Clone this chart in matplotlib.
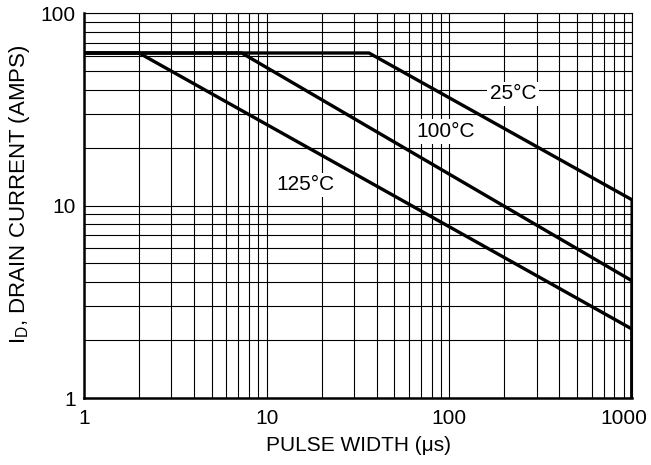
import matplotlib
matplotlib.use('Agg')
import numpy as np
import matplotlib.pyplot as plt
from matplotlib.transforms import ScaledTranslation

plt.rcParams['font.family'] = ['Liberation Sans', 'DejaVu Sans']
plt.rcParams['mathtext.fontset'] = 'custom'
plt.rcParams['mathtext.rm'] = 'Liberation Sans'

# safe operating limit: flat current limit, then falls off until 1000 us
temps = ['25°C', '100°C', '125°C']
limit_current = 62.0
knee_width = [36.3, 7.3, 2.0]      # us, where each curve leaves the flat limit
end_current = [10.7, 4.06, 2.28]   # A at 1000 us
end_width = 1000.0

label_pos = [(223, 38.0), (95, 24.3), (16.2, 12.8)]

fig = plt.figure(figsize=(6.51, 4.65), dpi=100)
ax = fig.add_axes([0.129, 0.144, 0.842, 0.828])

ax.set_xscale('log')
ax.set_yscale('log')
ax.set_xlim(1, 1000)
ax.set_ylim(1, 100)

ax.grid(True, which='both', color='black', linewidth=0.8)
ax.set_axisbelow(True)

for k, e in zip(knee_width, end_current):
    xs = [1, k, end_width, end_width]
    ys = [limit_current, limit_current, e, 1]
    ax.plot(xs, ys, color='black', linewidth=2.4, solid_joinstyle='miter', zorder=3)

for t, (x, y) in zip(temps, label_pos):
    ax.text(x, y, t, fontsize=15, ha='center', va='center', zorder=4,
            bbox=dict(facecolor='white', edgecolor='none', pad=2))

ax.set_xticks([1, 10, 100, 1000])
ax.set_xticklabels(['1', '10', '100', '1000'])
ax.set_yticks([1, 10, 100])
ax.set_yticklabels(['1', '10', '100'])
ax.tick_params(which='both', length=0, labelsize=15)
ax.tick_params(axis='x', pad=8)
ax.tick_params(axis='y', pad=6)

# pull the last x label in so it stays on the canvas
lbl = ax.get_xticklabels()[-1]
lbl.set_transform(lbl.get_transform() + ScaledTranslation(-0.08, 0, fig.dpi_scale_trans))

for s in ['left', 'bottom']:
    ax.spines[s].set_linewidth(1.8)
for s in ['top', 'right']:
    ax.spines[s].set_linewidth(0.8)

ax.set_xlabel('PULSE WIDTH (\u03bcs)', fontsize=15, labelpad=6)
ax.set_ylabel(r'I$_\mathrm{D}$, DRAIN CURRENT (AMPS)', fontsize=16)
ax.yaxis.set_label_coords(-0.095, 0.53)

fig.savefig('out.png', dpi=100)
